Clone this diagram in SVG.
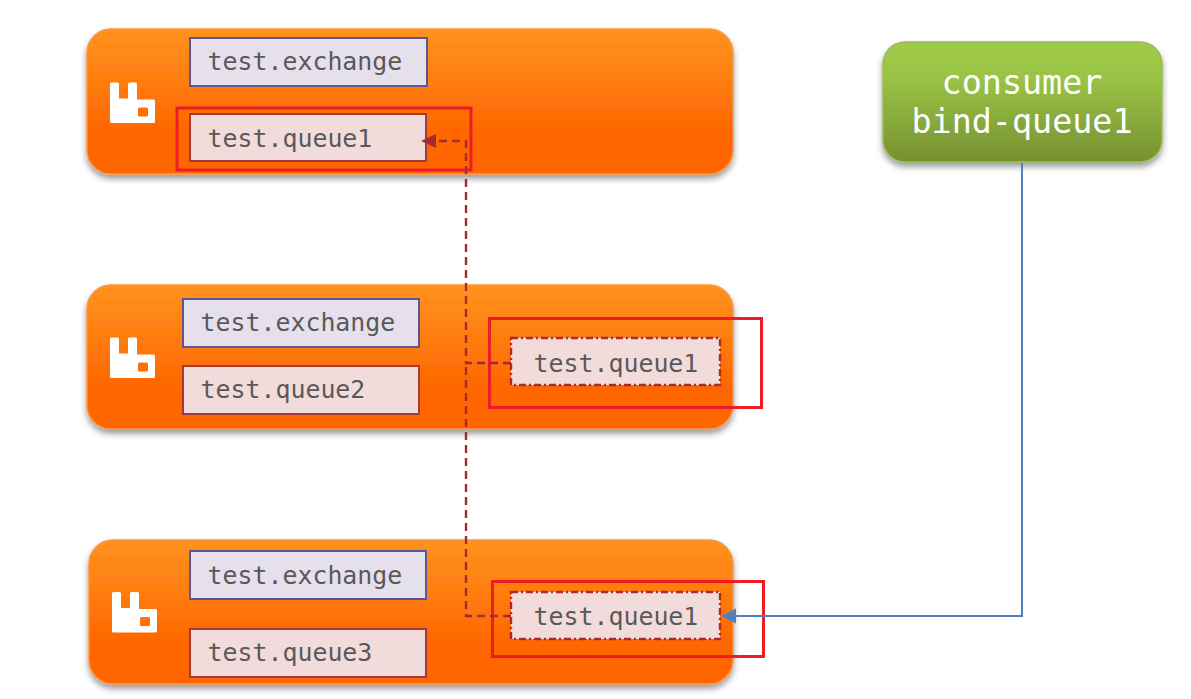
<svg xmlns="http://www.w3.org/2000/svg" width="1191" height="699" viewBox="0 0 1191 699">
  <style>
    .broker { fill: url(#orangeFill); stroke: #f79646; stroke-width: 1.5; filter: url(#softShadow); }
    .logo { fill: #ffffff; }
    .exchange { fill: #e6e0ec; stroke: #5f5591; stroke-width: 2; }
    .queue { fill: #f2dcdb; stroke: #a33a3a; stroke-width: 2; }
    .mirror { fill: #f2dcdb; stroke: #ad2b2f; stroke-width: 2.4; stroke-dasharray: 7 3 2 3; }
    .label { font-family: "DejaVu Sans Mono", "Liberation Mono", monospace; font-size: 24.9px; fill: #595959; }
    .consumer-label { font-family: "DejaVu Sans Mono", "Liberation Mono", monospace; font-size: 33.4px; fill: #ffffff; text-anchor: middle; }
    .highlight { fill: none; stroke: #ee1c25; stroke-width: 3; }
    .sync { fill: none; stroke: #a52a32; stroke-width: 2.4; stroke-dasharray: 8 5; }
    .read { fill: none; stroke: #4f81bd; stroke-width: 2; }
  </style>
  <defs>
    <linearGradient id="orangeFill" x1="0" y1="0" x2="0" y2="1">
      <stop offset="0" stop-color="#ff931e"/>
      <stop offset="0.72" stop-color="#ff6600"/>
      <stop offset="1" stop-color="#ff6600"/>
    </linearGradient>
    <linearGradient id="greenFill" x1="0" y1="0" x2="0" y2="1">
      <stop offset="0" stop-color="#9fcb49"/>
      <stop offset="0.3" stop-color="#9ac346"/>
      <stop offset="1" stop-color="#769131"/>
    </linearGradient>
    <filter id="softShadow" x="-5%" y="-10%" width="110%" height="125%">
      <feDropShadow dx="0" dy="4" stdDeviation="3" flood-color="#000000" flood-opacity="0.4"/>
    </filter>
    <marker id="redHead" markerUnits="userSpaceOnUse" markerWidth="18" markerHeight="18" refX="1" refY="9" orient="auto">
      <path d="M1 2 L16 9 L1 16 Z" fill="#a52a32"/>
    </marker>
    <marker id="blueHead" markerUnits="userSpaceOnUse" markerWidth="18" markerHeight="18" refX="1" refY="9" orient="auto">
      <path d="M1 1.500 L16 9 L1 16.500 Z" fill="#4f81bd"/>
    </marker>
    <!-- Rabbit logo: two ears, a body and a square cut-out -->
    <path id="rabbit" fill-rule="evenodd" d="M1.500 0 H7.500 Q9 0 9 1.500 V16 H18 V1.500 Q18 0 19.500 0 H25.500 Q27 0 27 1.500 V17 H43.500 Q45 17 45 18.500 V39 Q45 40.500 43.500 40.500 H1.500 Q0 40.500 0 39 V1.500 Q0 0 1.500 0 Z M29.500 25 Q28 25 28 26.500 V32.500 Q28 34 29.500 34 H36.500 Q38 34 38 32.500 V26.500 Q38 25 36.500 25 Z"/>
  </defs>

  <g id="node-broker-1">
    <rect class="broker" x="87" y="29" width="646" height="145" rx="24"/>
    <use href="#rabbit" class="logo" x="110" y="82.500"/>
    <rect class="exchange" x="190" y="38" width="237" height="48"/>
    <text class="label" x="207.500" y="70">test.exchange</text>
    <rect class="queue" x="190" y="114" width="236" height="47"/>
    <text class="label" x="207.500" y="147">test.queue1</text>
    <rect class="highlight" x="177" y="108" width="294" height="62"/>
  </g>

  <g id="node-broker-2">
    <rect class="broker" x="87" y="285" width="646" height="144" rx="24"/>
    <use href="#rabbit" class="logo" x="110" y="337.500"/>
    <rect class="exchange" x="183" y="299" width="236" height="48"/>
    <text class="label" x="200.500" y="331">test.exchange</text>
    <rect class="queue" x="183" y="366" width="236" height="48"/>
    <text class="label" x="200.500" y="398">test.queue2</text>
    <rect class="mirror" x="511" y="338" width="209" height="47"/>
    <text class="label" x="533.500" y="372">test.queue1</text>
    <rect class="highlight" x="489.500" y="318.500" width="272" height="89"/>
  </g>

  <g id="node-broker-3">
    <rect class="broker" x="89" y="540" width="644" height="144" rx="24"/>
    <use href="#rabbit" class="logo" x="112" y="592"/>
    <rect class="exchange" x="190" y="551" width="236" height="48"/>
    <text class="label" x="207.500" y="584">test.exchange</text>
    <rect class="queue" x="190" y="629" width="236" height="48"/>
    <text class="label" x="207.500" y="661">test.queue3</text>
    <rect class="mirror" x="511" y="592" width="209" height="47"/>
    <text class="label" x="533.500" y="625">test.queue1</text>
    <rect class="highlight" x="492.500" y="581.500" width="271" height="75"/>
  </g>

  <g id="node-consumer">
    <rect x="883" y="42" width="279" height="120" rx="22" fill="url(#greenFill)" stroke="#9bbb59" stroke-width="1.500" filter="url(#softShadow)"/>
    <text class="consumer-label" x="1022" y="94">consumer</text>
    <text class="consumer-label" x="1022" y="133">bind-queue1</text>
  </g>

  <!-- Connectors run over the broker panels -->
  <g id="connectors">
    <path class="sync" d="M511 363 H466 V141 H436" marker-end="url(#redHead)"/>
    <path class="sync" d="M511 616 H466 V363"/>
    <path class="read" d="M1022 163 V616 H736" marker-end="url(#blueHead)"/>
  </g>
</svg>
